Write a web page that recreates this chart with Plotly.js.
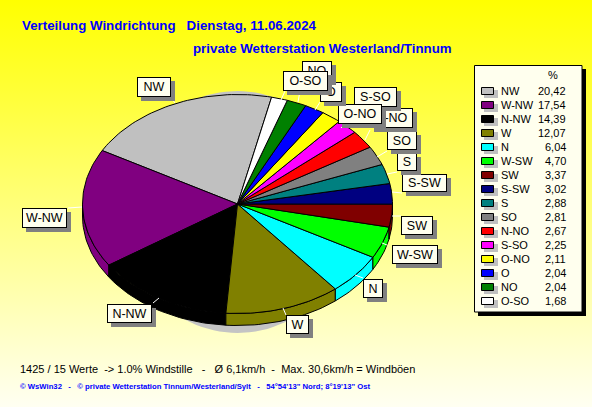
<!DOCTYPE html>
<html><head><meta charset="utf-8">
<script src="https://cdn.plot.ly/plotly-3.0.1.min.js"></script>
<style>html,body{margin:0;padding:0;width:592px;height:407px;overflow:hidden;background:linear-gradient(#ffff00,#fffff2)}#c{width:592px;height:407px}</style>
</head><body><div id="c"></div>
<script>
// ---- data ----
const directions = ["NW","W-NW","N-NW","W","N","W-SW","SW","S-SW","S","SO","N-NO","S-SO","O-NO","O","NO","O-SO"];
const percents = [20.42,17.54,14.39,12.07,6.04,4.70,3.37,3.02,2.88,2.81,2.67,2.25,2.11,2.04,2.04,1.68];
const sliceColors = ["#c0c0c0","#800080","#000000","#808000","#00ffff","#00ff00","#800000","#000080","#008080","#808080","#ff0000","#ff00ff","#ffff00","#0000ff","#008000","#ffffff"];
const percentLabels = ["20,42","17,54","14,39","12,07","6,04","4,70","3,37","3,02","2,88","2,81","2,67","2,25","2,11","2,04","2,04","1,68"];
// label boxes [x0,y0,x1,y1] in page pixels, same order as directions
const labelBoxes = [[137,77,171,97],[22,208,67,228],[107,304,152,323],[286,315,309,334],[363,279,383,298],[392,245,438,264],[401,216,433,235],[402,174,447,192],[397,153,417,171],[387,131,417,150],[370,108,413,128],[354,87,397,107],[338,104,382,124],[320,82,342,102],[302,61,332,81],[283,71,328,91]];
const leaders = [[172,99,175,103],[68,208,82,207],[153,303,159,298],[286,315,283,308],[363,278,355,275],[387,245,382,243],[401,216,392,216],[402,193,392,192],[397,172,387,174],[387,151,377,157],[370,130,365,140],[345,124,341,128],[345,124,341,128],[320,102,315,110],[300,91,298,102],[285,91,281,100]];
const titleLine1 = "Verteilung Windrichtung\u00a0\u00a0\u00a0Dienstag, 11.06.2024";
const titleLine2 = "private Wetterstation Westerland/Tinnum";
const footer1 = "1425 / 15 Werte\u00a0\u00a0-> 1.0% Windstille\u00a0\u00a0\u00a0-\u00a0\u00a0\u00a0\u00d8 6,1km/h\u00a0\u00a0-\u00a0\u00a0Max. 30,6km/h = Windböen";
const footer2 = "© WsWin32\u00a0\u00a0\u00a0-\u00a0\u00a0\u00a0© private Wetterstation Tinnum/Westerland/Sylt\u00a0\u00a0\u00a0-\u00a0\u00a0\u00a054°54'13\" Nord; 8°19'13\" Ost";

// ---- geometry ----
const W=592,H=407, cx=237.5, cy=204, rx=155, ry=109.5, startDeg=77.3, depth=12/109.5;
const total = percents.reduce((a,b)=>a+b,0);
const rad = d=>d*Math.PI/180;
function arc(a,b,dy){const n=Math.max(2,Math.ceil(Math.abs(b-a)/1.5));const xs=[],ys=[];
  for(let i=0;i<=n;i++){const t=rad(a+(b-a)*i/n);xs.push(Math.cos(t));ys.push(Math.sin(t)-dy);}return [xs,ys];}
const traces=[];
function poly(xs,ys,fill,line){traces.push({type:"scatter",mode:"lines",x:xs,y:ys,fill:"toself",fillcolor:fill,
  line:{color:line||fill,width:line?1:0,shape:"linear"},hoverinfo:"skip",showlegend:false});}
// soft shadow behind the pie
(function(){const n=120,xs=[],ys=[];for(let i=0;i<=n;i++){const t=2*Math.PI*i/n;xs.push((115/rx)*Math.cos(t));ys.push(-8/ry+(121/ry)*Math.sin(t));}poly(xs,ys,"#c4c4c4");})();
// slice angles
let acc=startDeg;const spans=percents.map(p=>{const a=acc;acc+=p/total*360;return [a,acc];});
// extruded rim (lower half only)
spans.forEach((s,i)=>{const a=Math.max(s[0],180),b=Math.min(s[1],360);if(b<=a)return;
  const top=arc(a,b,0),bot=arc(b,a,depth);
  poly(top[0].concat(bot[0],[top[0][0]]),top[1].concat(bot[1],[top[1][0]]),sliceColors[i],"#000000");});
// top faces
spans.forEach((s,i)=>{const e=arc(s[0],s[1],0);
  poly([0].concat(e[0],[0]),[0].concat(e[1],[0]),sliceColors[i],"#000000");});

// ---- page furniture ----
const shapes=[],ann=[];
const px=x=>x/W, py=y=>1-y/H;
function rect(x0,y0,x1,y1,fill,line){shapes.push({type:"rect",xref:"paper",yref:"paper",x0:px(x0),x1:px(x1),y0:py(y0),y1:py(y1),fillcolor:fill,line:{color:line||fill,width:line?1:0}});}
function text(t,x,y,size,color,anchor,family,bold){ann.push({xref:"paper",yref:"paper",x:px(x),y:py(y),xanchor:anchor||"left",yanchor:"middle",showarrow:false,borderpad:0,borderwidth:0,
  text:bold?"<b>"+t+"</b>":t,font:{family:family||"Liberation Sans",size:size,color:color||"#000"}});}
function box(x0,y0,x1,y1,fill,border,t){ann.push({xref:"paper",yref:"paper",x:px(x0),y:py(y0),xanchor:"left",yanchor:"top",showarrow:false,
  width:x1-x0-2,height:y1-y0-2,borderpad:0,borderwidth:1,bordercolor:border,bgcolor:fill,align:"center",valign:"middle",text:t,font:{family:"Liberation Sans",size:12.5,color:"#000"}});}
leaders.forEach(l=>shapes.push({type:"line",xref:"paper",yref:"paper",x0:px(l[0]),y0:py(l[1]),x1:px(l[2]),y1:py(l[3]),line:{color:"#ffffff",width:1}}));
directions.forEach((d,i)=>{const b=labelBoxes[i];
  box(b[0]+4,b[1]+4,b[2]+4,b[3]+4,"#808080","#808080"," ");
  box(b[0],b[1],b[2],b[3],"#ffffee","#000000",d);});

// legend panel
rect(478,69,586,316,"#000000");
rect(474.5,65.5,582,312,"#ffffee","#000000");
text("%",553,75,11,"#000","center");
directions.forEach((d,i)=>{const y=91+i*14;
  rect(484,y-1,498,y+7,"#c0c0c0");
  rect(481.5,y-3.5,493.5,y+3.5,sliceColors[i],"#000000");
  text(d,501,y,11);
  text(percentLabels[i],566,y,11,"#000","right");});

text(titleLine1,22,25,13.3,"#0000ff","left","Liberation Sans",true);
text(titleLine2,193,49,13.3,"#0000ff","left","Liberation Sans",true);
text(footer1,20,369,11,"#000");
text(footer2,20,386,7.7,"#0000ff","left","Liberation Sans",true);

Plotly.newPlot("c",traces,{width:W,height:H,margin:{l:0,r:0,t:0,b:0},paper_bgcolor:"rgba(0,0,0,0)",plot_bgcolor:"rgba(0,0,0,0)",showlegend:false,
 xaxis:{range:[-cx/rx,(W-cx)/rx],visible:false,fixedrange:true},
 yaxis:{range:[-(H-cy)/ry,cy/ry],visible:false,fixedrange:true},
 shapes:shapes,annotations:ann},{displayModeBar:false,staticPlot:true});
</script></body></html>
